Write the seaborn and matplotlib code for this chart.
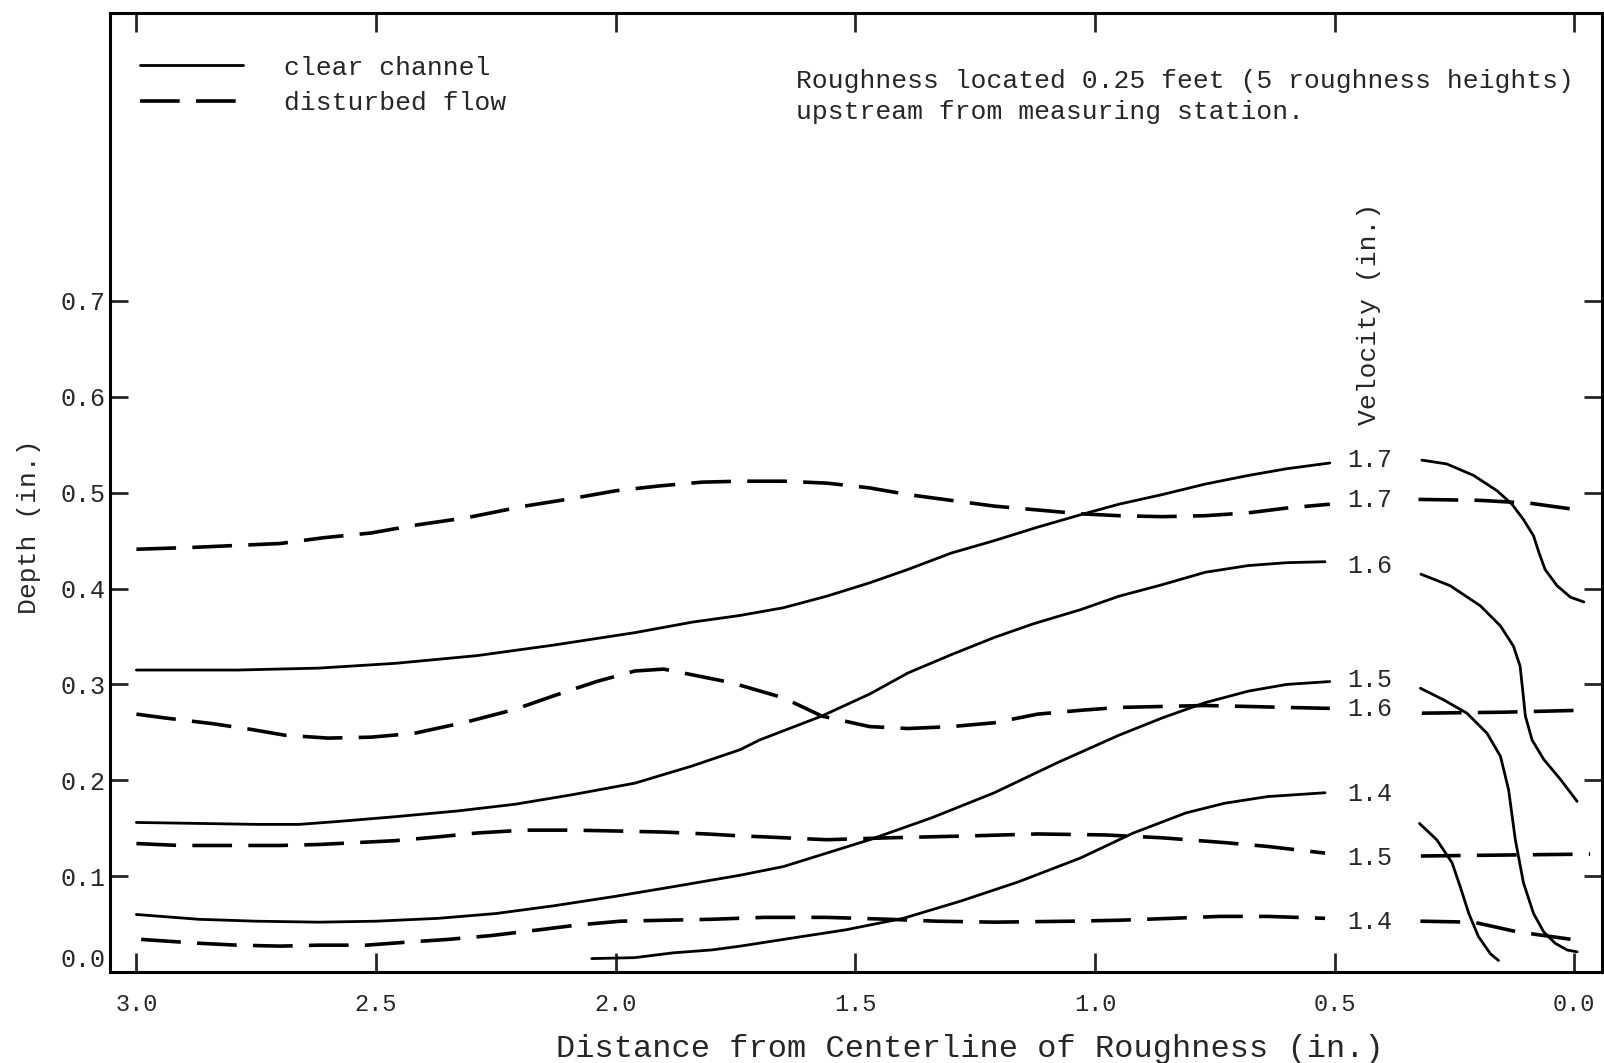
import numpy as np
import pandas as pd
import matplotlib
matplotlib.use("Agg")
import matplotlib.pyplot as plt
import seaborn as sns
from matplotlib.lines import Line2D

sns.set_style("ticks")
plt.rcParams['font.family'] = ['Liberation Mono', 'DejaVu Sans Mono']

# ---------------- data ----------------
# Left panel: iso-velocity lines, x = distance from centerline (in.), y = depth (in.)
v17_clear_x = [3.00, 2.79, 2.62, 2.46, 2.29, 2.13, 1.96, 1.84, 1.74, 1.65, 1.56, 1.47, 1.39, 1.30, 1.21, 1.12, 1.03, 0.95, 0.86, 0.77, 0.68, 0.60, 0.51]
v17_clear_y = [0.315, 0.315, 0.317, 0.322, 0.330, 0.341, 0.354, 0.365, 0.372, 0.380, 0.392, 0.406, 0.420, 0.437, 0.450, 0.464, 0.477, 0.488, 0.498, 0.509, 0.518, 0.525, 0.531]

v17_dist_x = [3.00, 2.88, 2.79, 2.70, 2.61, 2.51, 2.42, 2.31, 2.19, 2.09, 2.00, 1.91, 1.82, 1.74, 1.65, 1.56, 1.47, 1.39, 1.30, 1.21, 1.12, 1.03, 0.95, 0.86, 0.77, 0.68, 0.60, 0.51]
v17_dist_y = [0.441, 0.443, 0.445, 0.447, 0.453, 0.458, 0.466, 0.474, 0.486, 0.494, 0.502, 0.507, 0.511, 0.512, 0.512, 0.510, 0.505, 0.498, 0.492, 0.486, 0.482, 0.478, 0.476, 0.475, 0.476, 0.479, 0.484, 0.488]

v16_clear_x = [3.00, 2.87, 2.75, 2.66, 2.58, 2.46, 2.33, 2.21, 2.09, 1.96, 1.84, 1.74, 1.70, 1.57, 1.47, 1.39, 1.30, 1.21, 1.13, 1.03, 0.95, 0.86, 0.77, 0.68, 0.60, 0.52]
v16_clear_y = [0.156, 0.155, 0.154, 0.154, 0.157, 0.162, 0.168, 0.175, 0.185, 0.197, 0.215, 0.232, 0.242, 0.267, 0.290, 0.312, 0.331, 0.349, 0.363, 0.378, 0.392, 0.404, 0.417, 0.424, 0.427, 0.428]

v16_dist_x = [3.00, 2.94, 2.84, 2.76, 2.69, 2.60, 2.51, 2.42, 2.31, 2.21, 2.13, 2.04, 1.96, 1.90, 1.84, 1.76, 1.65, 1.57, 1.47, 1.39, 1.30, 1.21, 1.12, 1.03, 0.95, 0.86, 0.77, 0.68, 0.60, 0.51]
v16_dist_y = [0.269, 0.265, 0.259, 0.253, 0.247, 0.244, 0.245, 0.249, 0.261, 0.274, 0.288, 0.303, 0.314, 0.316, 0.310, 0.302, 0.286, 0.267, 0.256, 0.254, 0.256, 0.260, 0.269, 0.273, 0.276, 0.277, 0.278, 0.277, 0.276, 0.275]

v15_clear_x = [3.00, 2.87, 2.75, 2.62, 2.50, 2.37, 2.25, 2.13, 2.00, 1.88, 1.74, 1.65, 1.47, 1.34, 1.21, 1.08, 0.95, 0.86, 0.77, 0.68, 0.60, 0.51]
v15_clear_y = [0.060, 0.055, 0.053, 0.052, 0.053, 0.056, 0.061, 0.069, 0.079, 0.089, 0.101, 0.110, 0.138, 0.161, 0.187, 0.218, 0.247, 0.265, 0.281, 0.293, 0.300, 0.303]

v15_dist_x = [3.00, 2.91, 2.80, 2.70, 2.62, 2.54, 2.46, 2.37, 2.29, 2.19, 2.09, 1.99, 1.90, 1.81, 1.74, 1.69, 1.56, 1.43, 1.26, 1.12, 0.98, 0.86, 0.73, 0.64, 0.52]
v15_dist_y = [0.134, 0.132, 0.132, 0.132, 0.133, 0.135, 0.137, 0.141, 0.145, 0.148, 0.148, 0.147, 0.146, 0.144, 0.142, 0.141, 0.138, 0.140, 0.142, 0.144, 0.143, 0.140, 0.135, 0.131, 0.124]

v14_clear_x = [2.05, 1.96, 1.88, 1.80, 1.74, 1.65, 1.52, 1.40, 1.28, 1.16, 1.03, 0.92, 0.81, 0.73, 0.64, 0.52]
v14_clear_y = [0.014, 0.015, 0.020, 0.023, 0.027, 0.034, 0.044, 0.056, 0.074, 0.094, 0.119, 0.145, 0.166, 0.176, 0.183, 0.187]

v14_dist_x = [2.99, 2.87, 2.79, 2.70, 2.62, 2.52, 2.44, 2.35, 2.26, 2.16, 2.08, 1.99, 1.90, 1.80, 1.69, 1.56, 1.43, 1.33, 1.21, 1.05, 0.95, 0.84, 0.74, 0.64, 0.52]
v14_dist_y = [0.034, 0.030, 0.028, 0.027, 0.028, 0.028, 0.031, 0.034, 0.038, 0.044, 0.049, 0.053, 0.054, 0.055, 0.057, 0.057, 0.055, 0.053, 0.052, 0.053, 0.054, 0.056, 0.058, 0.058, 0.056]

# Right panel (near the roughness element)
r17_clear_x = [0.318, 0.266, 0.210, 0.161, 0.130, 0.106, 0.085, 0.074, 0.061, 0.036, 0.008, -0.020]
r17_clear_y = [0.534, 0.530, 0.518, 0.502, 0.488, 0.472, 0.455, 0.438, 0.420, 0.403, 0.391, 0.386]
r17_dist_x = [0.325, 0.196, 0.092, -0.009]
r17_dist_y = [0.493, 0.492, 0.489, 0.482]

r16_clear_x = [0.320, 0.259, 0.196, 0.154, 0.127, 0.113, 0.107, 0.102, 0.088, 0.064, 0.029, -0.006]
r16_clear_y = [0.415, 0.403, 0.382, 0.361, 0.340, 0.319, 0.291, 0.267, 0.242, 0.222, 0.201, 0.178]
r16_dist_x = [0.318, 0.150, -0.013]
r16_dist_y = [0.270, 0.271, 0.273]

r15_clear_x = [0.321, 0.273, 0.224, 0.182, 0.154, 0.137, 0.123, 0.106, 0.085, 0.064, 0.040, 0.015, -0.006]
r15_clear_y = [0.296, 0.284, 0.270, 0.249, 0.225, 0.190, 0.138, 0.093, 0.061, 0.042, 0.030, 0.023, 0.021]
r15_dist_x = [0.320, 0.150, -0.033]
r15_dist_y = [0.121, 0.122, 0.123]

r14_clear_x = [0.323, 0.287, 0.255, 0.238, 0.220, 0.200, 0.175, 0.158]
r14_clear_y = [0.155, 0.138, 0.114, 0.089, 0.061, 0.037, 0.019, 0.012]
r14_dist_x = [0.321, 0.210, 0.120, -0.009]
r14_dist_y = [0.053, 0.052, 0.042, 0.033]

velocity_labels = ["1.7", "1.7", "1.6", "1.5", "1.6", "1.4", "1.5", "1.4"]
velocity_label_y = [0.534, 0.492, 0.424, 0.305, 0.274, 0.186, 0.119, 0.052]

x_ticks = [3.0, 2.5, 2.0, 1.5, 1.0, 0.5, 0.0]
x_tick_labels = ["3.0", "2.5", "2.0", "1.5", "1.0", "0.5", "0.0"]
y_ticks = [0.0, 0.1, 0.2, 0.3, 0.4, 0.5, 0.6, 0.7]
y_tick_labels = ["0.0", "0.1", "0.2", "0.3", "0.4", "0.5", "0.6", "0.7"]

# ---------------- figure ----------------
fig = plt.figure(figsize=(16.04, 10.63), dpi=100)
ax = fig.add_axes([0.0683, 0.0856, 0.9305, 0.9018])

solid_kw = dict(color="black", linewidth=2.0, linestyle="-")
dash_kw = dict(color="black", linewidth=2.6, linestyle=(0, (11, 4.5)))

clear_curves = [(v17_clear_x, v17_clear_y), (v16_clear_x, v16_clear_y),
                (v15_clear_x, v15_clear_y), (v14_clear_x, v14_clear_y),
                (r17_clear_x, r17_clear_y), (r16_clear_x, r16_clear_y),
                (r15_clear_x, r15_clear_y), (r14_clear_x, r14_clear_y)]
dist_curves = [(v17_dist_x, v17_dist_y), (v16_dist_x, v16_dist_y),
               (v15_dist_x, v15_dist_y), (v14_dist_x, v14_dist_y),
               (r17_dist_x, r17_dist_y), (r16_dist_x, r16_dist_y),
               (r15_dist_x, r15_dist_y), (r14_dist_x, r14_dist_y)]

for xs, ys in clear_curves:
    sns.lineplot(x=xs, y=ys, ax=ax, sort=False, estimator=None, **solid_kw)
for xs, ys in dist_curves:
    sns.lineplot(x=xs, y=ys, ax=ax, sort=False, estimator=None, **dash_kw)

ax.set_xlim(3.056, -0.058)
ax.set_ylim(0.0, 1.0)

ax.set_xticks(x_ticks)
ax.set_xticklabels(x_tick_labels)
ax.set_yticks(y_ticks)
ax.set_yticklabels(y_tick_labels)
ax.tick_params(axis="x", direction="in", top=True, bottom=True, length=14,
               width=2, labelsize=17, pad=15)
ax.tick_params(axis="y", direction="in", left=True, right=True, length=13,
               width=2, labelsize=18, pad=3)
ax.get_yticklabels()[0].set_verticalalignment("bottom")

for sp in ax.spines.values():
    sp.set_visible(True)
    sp.set_linewidth(2.2)
    sp.set_color("black")

# velocity value labels
for lab, yv in zip(velocity_labels, velocity_label_y):
    ax.text(0.426, yv, lab, ha="center", va="center", fontsize=18)
ax.text(0.428, 0.687, "Velocity (in.)", rotation=90, ha="center", va="center",
        fontsize=19)

# axis labels
ax.set_xlabel("Distance from Centerline of Roughness (in.)", fontsize=23)
ax.xaxis.set_label_coords(0.5766, -0.0798)
ax.xaxis.label.set_verticalalignment("center")
ax.set_ylabel("Depth (in.)", fontsize=19)
ax.yaxis.set_label_coords(-0.054, 0.465)
ax.yaxis.label.set_verticalalignment("center")

# annotation
ax.text(0.46, 0.9295, "Roughness located 0.25 feet (5 roughness heights)",
        transform=ax.transAxes, fontsize=19, ha="left", va="center")
ax.text(0.46, 0.8967, "upstream from measuring station.",
        transform=ax.transAxes, fontsize=19, ha="left", va="center")

# legend
handles = [Line2D([], [], **solid_kw), Line2D([], [], **dash_kw)]
leg = ax.legend(handles, ["clear channel", "disturbed flow"], loc="upper left",
                bbox_to_anchor=(0.0204, 0.956), frameon=False, fontsize=19,
                handlelength=3.9, handletextpad=1.55, labelspacing=0.45,
                borderpad=0, borderaxespad=0)

fig.savefig("out.png", dpi=100, facecolor="white")
